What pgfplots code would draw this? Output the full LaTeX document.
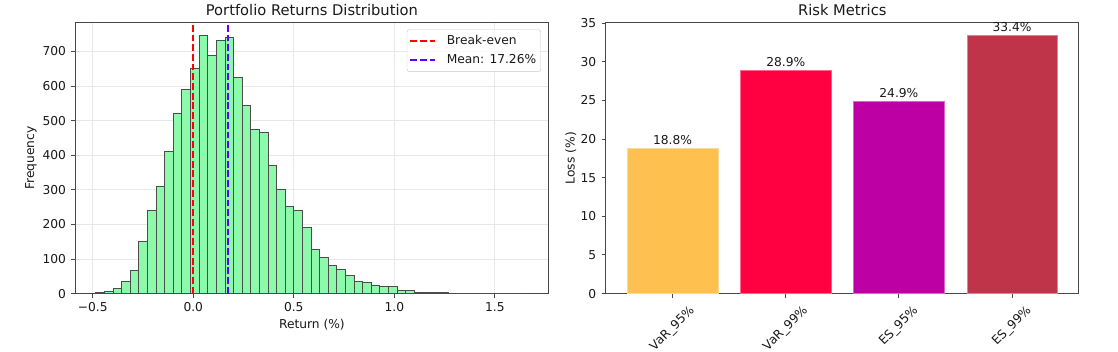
\documentclass[border=0pt]{standalone}
\usepackage{fontspec}
\setmainfont{DejaVu Sans}
\usepackage{pgfplots}
\pgfplotsset{compat=1.18}
\definecolor{histfill}{RGB}{140,250,170}
\definecolor{meanc}{RGB}{96,0,255}
\definecolor{c1}{RGB}{254,192,78}
\definecolor{c2}{RGB}{255,0,64}
\definecolor{c3}{RGB}{188,0,163}
\definecolor{c4}{RGB}{192,52,74}
\definecolor{gridc}{RGB}{232,232,232}
\definecolor{txt}{RGB}{25,25,25}
\pgfplotsset{
  common/.style={
    scale only axis, anchor=south west,
    axis line style={black!72, line width=1pt},
    tick align=outside, major tick length=4.3pt,
    tick style={black!72, line width=1pt},
    every tick label/.append style={font=\fontsize{12.25}{14}\selectfont, text=txt},
    /pgf/number format/assume math mode=true,
    every axis title/.style={font=\fontsize{14.7}{17}\selectfont, text=txt, anchor=base, at={(axis description cs:0.5,1.026)}},
    xtick pos=bottom, ytick pos=left,
    yticklabel style={anchor=east, inner sep=0pt, xshift=-5.2pt},
  }
}
\begin{document}
\begin{tikzpicture}
\useasboundingbox (0,0) rectangle (1118pt,351pt);
\begin{axis}[common,
  at={(75.6pt,57.4pt)},
  width=472.6pt, height=270.9pt,
  xmin=-0.585, xmax=1.765, ymin=0, ymax=783,
  xtick={-0.5,0,0.5,1,1.5}, xticklabels={−0.5,0.0,0.5,1.0,1.5},
  xticklabel style={anchor=base, inner sep=0pt, yshift=-13.7pt},
  ytick={0,100,200,300,400,500,600,700},
  grid=major, grid style={gridc, line width=0.9pt},
  title={Portfolio Returns Distribution},
  xlabel={Return (\%)}, ylabel={Frequency},
  every axis x label/.style={at={(axis description cs:0.5,-0.116)}, anchor=center, font=\fontsize{12.25}{14}\selectfont, text=txt},
  every axis y label/.style={at={(axis description cs:-0.0944,0.5)}, anchor=center, rotate=90, font=\fontsize{12.25}{14}\selectfont, text=txt},
  legend style={at={(axis description cs:0.9846,0.9756)}, anchor=north east,
    draw=black!22, rounded corners=2.5pt, fill=white, fill opacity=0.8, text opacity=1,
    font=\fontsize{12.25}{14}\selectfont, text=txt, inner xsep=2.5pt, inner ysep=3.5pt, row sep=2.7pt,
    /tikz/every odd column/.append style={column sep=8.5pt},
    nodes={text height=9.6pt, text depth=2.6pt}},
  legend cell align=left,
  legend image code/.code={\draw[#1] (0pt,0pt) -- (25pt,0pt);},
]
\addplot[ybar interval, fill=histfill, draw=black!70, line width=1pt, forget plot] coordinates {
(-0.484,2) (-0.4412,7) (-0.3984,14) (-0.3556,35) (-0.3128,67)
(-0.270,152) (-0.2272,241) (-0.1844,309) (-0.1416,410) (-0.0988,520)
(-0.056,591) (-0.0132,652) (0.0296,746) (0.0724,688) (0.1152,732)
(0.158,740) (0.2008,625) (0.2436,543) (0.2864,473) (0.3292,467)
(0.372,370) (0.4148,301) (0.4576,251) (0.5004,241) (0.5432,191)
(0.586,127) (0.6288,105) (0.6716,82) (0.7144,69) (0.7572,51)
(0.800,36) (0.8428,32) (0.8856,22) (0.9284,20) (0.9712,20)
(1.014,9) (1.0568,9) (1.0996,4) (1.1424,2) (1.1852,2)
(1.228,4) (1.2708,1) (1.3136,0) (1.3564,1) (1.3992,0)
(1.442,1) (1.4848,0) (1.5276,0) (1.5704,0) (1.6132,1)
(1.656,1)
};
\addplot[red, line width=1.8pt, dash pattern=on 6.8pt off 2.9pt] coordinates {(0,0) (0,783)};
\addlegendentry{Break-even}
\addplot[meanc, line width=1.8pt, dash pattern=on 6.8pt off 2.9pt] coordinates {(0.1726,0) (0.1726,783)};
\addlegendentry{Mean: 17.26\%}
\end{axis}
\begin{axis}[common,
  at={(605.8pt,57.4pt)},
  width=473pt, height=270.9pt,
  xmin=-0.59, xmax=3.59, ymin=0, ymax=35.07,
  xtick={0,1,2,3},
  xticklabels={\rotatebox{45}{VaR\_95\%},\rotatebox{45}{VaR\_99\%},\rotatebox{45}{ES\_95\%},\rotatebox{45}{ES\_99\%}},
  xticklabel style={anchor=north, inner sep=0pt, yshift=-6.5pt},
  ytick={0,5,10,15,20,25,30,35},
  title={Risk Metrics},
  ylabel={Loss (\%)},
  every axis y label/.style={at={(axis description cs:-0.0742,0.5)}, anchor=center, rotate=90, font=\fontsize{12.25}{14}\selectfont, text=txt},
  ybar, bar width=0.8, bar shift=0pt,
  point meta=explicit symbolic,
  nodes near coords={\pgfplotspointmeta},
  every node near coord/.style={font=\fontsize{12.25}{14}\selectfont, text=txt, anchor=base, yshift=3.7pt, inner sep=0pt},
]
\addplot[fill=c1, draw=c1!60!white, line width=0.5pt] coordinates {(0,18.8) [18.8\%]};
\addplot[fill=c2, draw=c2!60!white, line width=0.5pt] coordinates {(1,28.9) [28.9\%]};
\addplot[fill=c3, draw=c3!60!white, line width=0.5pt] coordinates {(2,24.9) [24.9\%]};
\addplot[fill=c4, draw=c4!60!white, line width=0.5pt] coordinates {(3,33.4) [33.4\%]};
\end{axis}
\end{tikzpicture}
\end{document}
